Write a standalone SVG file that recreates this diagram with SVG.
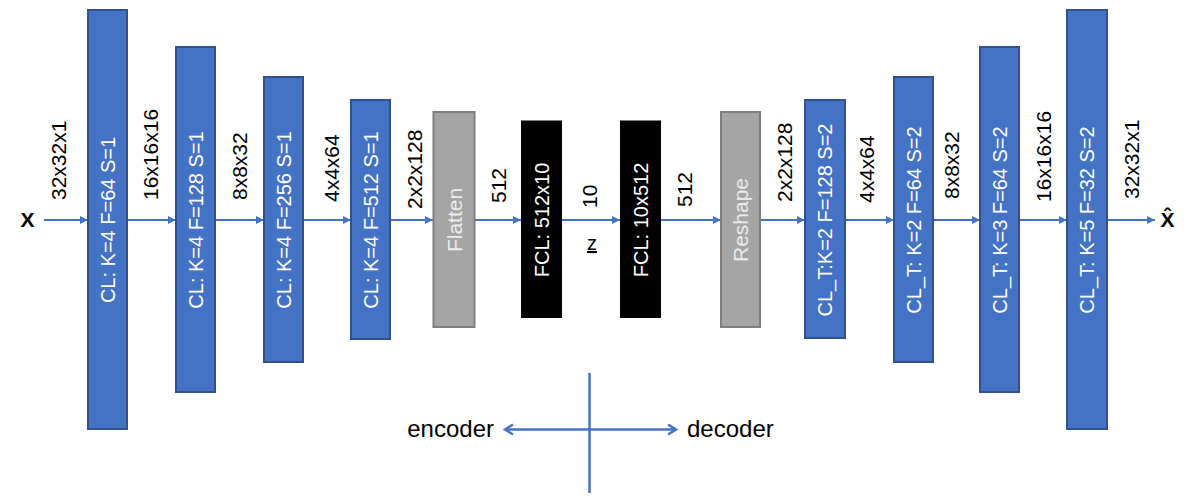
<svg xmlns="http://www.w3.org/2000/svg" width="1187" height="499" viewBox="0 0 1187 499">
<style>
.cl{fill:#4472c4;stroke:#2f528f;stroke-width:2}
.gr{fill:#a5a5a5;stroke:#7f7f7f;stroke-width:2}
.bk{fill:#000000;stroke:#000000;stroke-width:1}
.bt{font-family:"Liberation Sans",Arial,sans-serif;font-size:20px;fill:#ffffff;text-anchor:middle}
.gt{font-family:"Liberation Sans",Arial,sans-serif;font-size:21px;fill:#ececec;text-anchor:middle}
.lb{font-family:"Liberation Sans",Arial,sans-serif;font-size:21px;fill:#000000;text-anchor:start}
.io{font-family:"Liberation Sans",Arial,sans-serif;font-size:21px;font-weight:bold;fill:#000000;text-anchor:middle}
.ed{font-family:"Liberation Sans",Arial,sans-serif;font-size:24px;fill:#000000}
.ar{stroke:#4472c4;stroke-width:2;fill:none;marker-end:url(#ah)}
.ax{stroke:#4472c4;stroke-width:2.5;fill:none}
</style>
<defs>
<marker id="ah" markerUnits="userSpaceOnUse" markerWidth="9" markerHeight="9" refX="8" refY="4" orient="auto">
<path d="M0,0 L8,4 L0,8 z" fill="#4472c4"/>
</marker>
<marker id="oh" markerUnits="userSpaceOnUse" markerWidth="14" markerHeight="14" refX="11" refY="6" orient="auto-start-reverse">
<path d="M3,1 L11,6 L3,11" fill="none" stroke="#4472c4" stroke-width="2.5"/>
</marker>
</defs>

<g id="connectors">
<line class="ar" x1="44" y1="220" x2="88" y2="220"/>
<line class="ar" x1="127" y1="220" x2="176" y2="220"/>
<line class="ar" x1="215" y1="220" x2="264" y2="220"/>
<line class="ar" x1="303" y1="220" x2="351" y2="220"/>
<line class="ar" x1="390" y1="220" x2="433" y2="220"/>
<line class="ar" x1="475" y1="220" x2="521" y2="220"/>
<line class="ar" x1="562" y1="220" x2="620" y2="220"/>
<line class="ar" x1="661" y1="220" x2="721" y2="220"/>
<line class="ar" x1="760" y1="220" x2="805" y2="220"/>
<line class="ar" x1="845" y1="220" x2="894" y2="220"/>
<line class="ar" x1="933" y1="220" x2="980" y2="220"/>
<line class="ar" x1="1019" y1="220" x2="1067" y2="220"/>
<line class="ar" x1="1107" y1="220" x2="1155" y2="220"/>
</g>

<g id="labels">
<text class="io" x="27.5" y="227">X</text>
<text class="io" x="1167.5" y="227">X̂</text>
<text class="lb" transform="translate(66,200) rotate(-90)">32x32x1</text>
<text class="lb" transform="translate(158,200) rotate(-90)">16x16x16</text>
<text class="lb" transform="translate(247,200) rotate(-90)">8x8x32</text>
<text class="lb" transform="translate(339,202) rotate(-90)">4x4x64</text>
<text class="lb" transform="translate(422,209) rotate(-90)">2x2x128</text>
<text class="lb" transform="translate(506,203) rotate(-90)">512</text>
<text class="lb" transform="translate(597,208) rotate(-90)">10</text>
<text class="lb" transform="translate(692,207) rotate(-90)">512</text>
<text class="lb" transform="translate(792,202) rotate(-90)">2x2x128</text>
<text class="lb" transform="translate(874,203) rotate(-90)">4x4x64</text>
<text class="lb" transform="translate(959,199) rotate(-90)">8x8x32</text>
<text class="lb" transform="translate(1051,202) rotate(-90)">16x16x16</text>
<text class="lb" transform="translate(1139,199) rotate(-90)">32x32x1</text>
<text x="592" y="250" font-family="Liberation Sans, Arial, sans-serif" font-size="20" text-anchor="middle" text-decoration="underline" fill="#000">z</text>
</g>

<g id="cl1"><rect class="cl" x="88" y="10" width="39" height="419"/><text class="bt" transform="translate(114.7,220) rotate(-90)">CL: K=4 F=64 S=1</text></g>
<g id="cl2"><rect class="cl" x="176" y="47" width="39" height="345"/><text class="bt" transform="translate(202.7,220) rotate(-90)">CL: K=4 F=128 S=1</text></g>
<g id="cl3"><rect class="cl" x="264" y="77" width="39" height="285"/><text class="bt" transform="translate(290.7,220) rotate(-90)">CL: K=4 F=256 S=1</text></g>
<g id="cl4"><rect class="cl" x="351" y="100" width="39" height="239"/><text class="bt" transform="translate(377.7,220) rotate(-90)">CL: K=4 F=512 S=1</text></g>
<g id="flatten"><rect class="gr" x="433.5" y="112" width="41" height="215"/><text class="gt" transform="translate(461.5,220) rotate(-90)">Flatten</text></g>
<g id="fcl1"><rect class="bk" x="521.5" y="121" width="40" height="196.5"/><text class="bt" transform="translate(548.7,220) rotate(-90)">FCL: 512x10</text></g>
<g id="fcl2"><rect class="bk" x="620.5" y="121" width="40" height="196.5"/><text class="bt" transform="translate(647.7,220) rotate(-90)">FCL: 10x512</text></g>
<g id="reshape"><rect class="gr" x="721" y="112" width="39" height="215"/><text class="gt" transform="translate(748,220) rotate(-90)">Reshape</text></g>
<g id="clt1"><rect class="cl" x="805" y="100" width="40" height="238"/><text class="bt" transform="translate(832.2,220) rotate(-90)">CL_T:K=2 F=128 S=2</text></g>
<g id="clt2"><rect class="cl" x="894" y="77" width="39" height="285"/><text class="bt" transform="translate(920.7,220) rotate(-90)">CL_T: K=2 F=64 S=2</text></g>
<g id="clt3"><rect class="cl" x="980" y="47" width="39" height="345"/><text class="bt" transform="translate(1006.7,220) rotate(-90)">CL_T: K=3 F=64 S=2</text></g>
<g id="clt4"><rect class="cl" x="1067" y="10" width="40" height="419"/><text class="bt" transform="translate(1094.2,220) rotate(-90)">CL_T: K=5 F=32 S=2</text></g>

<g id="legend">
<line class="ax" x1="589.5" y1="373" x2="589.5" y2="493"/>
<line class="ax" x1="505" y1="429.5" x2="676" y2="429.5" marker-start="url(#oh)" marker-end="url(#oh)"/>
<text class="ed" x="494" y="437" text-anchor="end">encoder</text>
<text class="ed" x="687" y="437" text-anchor="start">decoder</text>
</g>
</svg>
